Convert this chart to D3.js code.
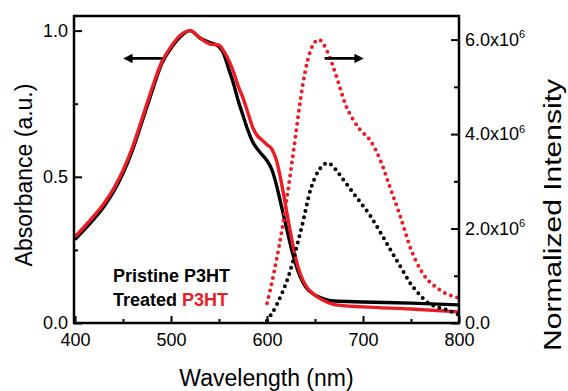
<!DOCTYPE html>
<html>
<head>
<meta charset="utf-8">
<script src="https://cdn.jsdelivr.net/npm/d3@7"></script>
<style>
  body { margin: 0; background: #fff; }
  svg text { font-family: "Liberation Sans", Arial, sans-serif; }
</style>
</head>
<body>
<div id="chart"></div>
<script>
// absorbance, pristine P3HT (black)
let absPristineNm = [400, 410, 420, 430, 440, 450, 460, 470, 480, 490, 500, 510, 520, 530, 540, 550, 555, 560, 565, 570, 575, 580, 585, 590, 595, 600, 605, 610, 615, 620, 625, 630, 635, 640, 650, 660, 670, 700, 750, 800]
let absPristine = [0.285, 0.32, 0.357, 0.398, 0.448, 0.512, 0.592, 0.69, 0.79, 0.885, 0.94, 0.98, 1.0, 0.975, 0.96, 0.945, 0.92, 0.87, 0.82, 0.76, 0.71, 0.66, 0.62, 0.595, 0.575, 0.555, 0.525, 0.47, 0.4, 0.33, 0.26, 0.2, 0.155, 0.125, 0.095, 0.082, 0.075, 0.072, 0.068, 0.062]
// absorbance, treated P3HT (red)
let absTreatedNm = [400, 410, 420, 430, 440, 450, 460, 470, 480, 490, 500, 510, 520, 530, 540, 550, 555, 560, 565, 570, 575, 580, 585, 590, 595, 600, 605, 610, 615, 620, 625, 630, 635, 640, 650, 660, 670, 700, 750, 800]
let absTreated = [0.295, 0.33, 0.367, 0.408, 0.458, 0.522, 0.602, 0.7, 0.8, 0.89, 0.945, 0.985, 1.0, 0.975, 0.955, 0.95, 0.93, 0.9, 0.86, 0.81, 0.77, 0.72, 0.67, 0.64, 0.625, 0.61, 0.595, 0.555, 0.48, 0.39, 0.3, 0.22, 0.165, 0.13, 0.095, 0.075, 0.063, 0.055, 0.048, 0.038]
// photoluminescence, pristine (black dots), units of 1e6
let plPristineNm = [600, 605, 610, 615, 620, 627, 632, 637, 645, 653, 658, 663, 667, 672, 680, 690, 700, 707, 714, 721, 728, 735, 742, 749, 758, 767, 777, 787, 800]
let plPristine = [0.05, 0.2, 0.38, 0.6, 0.85, 1.3, 1.7, 2.1, 2.8, 3.2, 3.33, 3.39, 3.35, 3.24, 3.02, 2.75, 2.48, 2.29, 2.06, 1.82, 1.57, 1.33, 1.09, 0.85, 0.62, 0.44, 0.34, 0.28, 0.17]
// photoluminescence, treated (red dots), units of 1e6
let plTreatedNm = [600, 605, 610, 615, 620, 625, 630, 635, 640, 645, 650, 654, 658, 663, 669, 675, 681, 690, 697, 707, 718, 728, 739, 749, 762, 780, 800]
let plTreated = [0.42, 0.85, 1.35, 1.9, 2.55, 3.25, 4.0, 4.75, 5.35, 5.75, 5.95, 6.0, 5.93, 5.74, 5.42, 5.05, 4.66, 4.3, 4.09, 3.88, 3.45, 2.88, 2.25, 1.61, 1.06, 0.7, 0.53]

let xTicks = [400, 500, 600, 700, 800]
let xMinorTicks = [450, 550, 650, 750]
let absTicks = [0, 0.5, 1.0]
let absMinorTicks = [0.25, 0.75]
let plTicks = [0, 2e6, 4e6, 6e6]
let plMinorTicks = [1e6, 3e6, 5e6]

let black = '#000'
let red = '#ec1c24'

let width = 568
let height = 391
let m = { left: 74, right: 459, top: 16, bottom: 323 }

let svg = d3.select('#chart').append('svg')
  .attr('width', width)
  .attr('height', height)

let x = d3.scaleLinear().domain([400, 800]).range([m.left + 1, m.right])
let yAbs = d3.scaleLinear().domain([0, 1.05]).range([m.bottom, m.top])
let yPl = d3.scaleLinear().domain([0, 6.5e6]).range([m.bottom, m.top])

let plot = svg.append('g')

function lineOf (nm, vals, y, scale) {
  let pts = nm.map((d, i) => [x(d), y(vals[i] * scale)])
  return d3.line().curve(d3.curveMonotoneX)(pts)
}

plot.append('path')
  .attr('d', lineOf(absPristineNm, absPristine, yAbs, 1))
  .attr('fill', 'none').attr('stroke', black).attr('stroke-width', 3.4)
plot.append('path')
  .attr('d', lineOf(absTreatedNm, absTreated, yAbs, 1))
  .attr('fill', 'none').attr('stroke', red).attr('stroke-width', 3.4)

// PL spectra drawn as dotted curves
plot.append('path')
  .attr('d', lineOf(plPristineNm, plPristine, yPl, 1e6))
  .attr('fill', 'none').attr('stroke', black).attr('stroke-width', 4)
  .attr('stroke-linecap', 'round').attr('stroke-dasharray', '0 6.5')
plot.append('path')
  .attr('d', lineOf(plTreatedNm, plTreated, yPl, 1e6))
  .attr('fill', 'none').attr('stroke', red).attr('stroke-width', 4)
  .attr('stroke-linecap', 'round').attr('stroke-dasharray', '0 6.5')

// axes, ticks pointing inward
function styleAxis (g) {
  g.select('.domain').remove()
  g.selectAll('line').attr('stroke', black).attr('stroke-width', 2)
  g.selectAll('text').attr('font-size', 18).attr('fill', black)
    .attr('font-family', '"Liberation Sans", Arial, sans-serif')
}

svg.append('g').attr('transform', 'translate(0,' + m.bottom + ')')
  .call(d3.axisBottom(x).tickValues(xTicks).tickSize(-7).tickPadding(10).tickFormat(d3.format('d')))
  .call(styleAxis)
svg.append('g').attr('transform', 'translate(0,' + m.bottom + ')')
  .call(d3.axisBottom(x).tickValues(xMinorTicks).tickSize(-4).tickFormat(''))
  .call(styleAxis)

svg.append('g').attr('transform', 'translate(' + m.left + ',0)')
  .call(d3.axisLeft(yAbs).tickValues(absTicks).tickSize(-8).tickPadding(6).tickFormat(d3.format('.1f')))
  .call(styleAxis)
svg.append('g').attr('transform', 'translate(' + m.left + ',0)')
  .call(d3.axisLeft(yAbs).tickValues(absMinorTicks).tickSize(-4).tickFormat(''))
  .call(styleAxis)

let rightAxis = svg.append('g').attr('transform', 'translate(' + m.right + ',0)')
  .call(d3.axisRight(yPl).tickValues(plTicks).tickSize(-8).tickPadding(6).tickFormat(''))
  .call(styleAxis)
rightAxis.selectAll('.tick text').each(function (d) {
  let t = d3.select(this)
  if (d === 0) {
    t.text('0.0')
  } else {
    t.append('tspan').text((d / 1e6).toFixed(1) + 'x10')
    t.append('tspan').text('6').attr('font-size', 11).attr('dy', '-0.7em')
  }
})
svg.append('g').attr('transform', 'translate(' + m.right + ',0)')
  .call(d3.axisRight(yPl).tickValues(plMinorTicks).tickSize(-5).tickFormat(''))
  .call(styleAxis)

// frame
svg.append('rect')
  .attr('x', m.left).attr('y', m.top)
  .attr('width', m.right - m.left).attr('height', m.bottom - m.top)
  .attr('fill', 'none').attr('stroke', black).attr('stroke-width', 2.5)

// axis titles
svg.append('text')
  .attr('x', (m.left + m.right) / 2).attr('y', 386)
  .attr('text-anchor', 'middle').attr('font-size', 23)
  .text('Wavelength (nm)')
svg.append('text')
  .attr('transform', 'translate(32,175) rotate(-90)')
  .attr('text-anchor', 'middle').attr('font-size', 23)
  .text('Absorbance (a.u.)')
svg.append('text')
  .attr('transform', 'translate(561,215) rotate(-90)')
  .attr('text-anchor', 'middle').attr('font-size', 23)
  .attr('textLength', 272).attr('lengthAdjust', 'spacingAndGlyphs')
  .text('Normalized Intensity')

// arrows pointing to each axis
svg.append('defs').append('marker')
  .attr('id', 'head').attr('viewBox', '0 0 10 10')
  .attr('refX', 2).attr('refY', 5)
  .attr('markerWidth', 4.2).attr('markerHeight', 3.6)
  .attr('orient', 'auto')
  .append('path').attr('d', 'M0,0 L10,5 L0,10 z').attr('fill', black)

svg.append('line')
  .attr('x1', x(491)).attr('y1', yAbs(0.905))
  .attr('x2', x(458)).attr('y2', yAbs(0.905))
  .attr('stroke', black).attr('stroke-width', 2.6)
  .attr('marker-end', 'url(#head)')
svg.append('line')
  .attr('x1', x(660)).attr('y1', yAbs(0.905))
  .attr('x2', x(693)).attr('y2', yAbs(0.905))
  .attr('stroke', black).attr('stroke-width', 2.6)
  .attr('marker-end', 'url(#head)')

// legend
let legend = svg.append('g').attr('font-size', 18).attr('font-weight', 'bold')
legend.append('text').attr('x', 113).attr('y', 282).text('Pristine P3HT')
let l2 = legend.append('text').attr('x', 113).attr('y', 306)
l2.append('tspan').text('Treated ')
l2.append('tspan').attr('fill', red).text('P3HT')
</script>
</body>
</html>
